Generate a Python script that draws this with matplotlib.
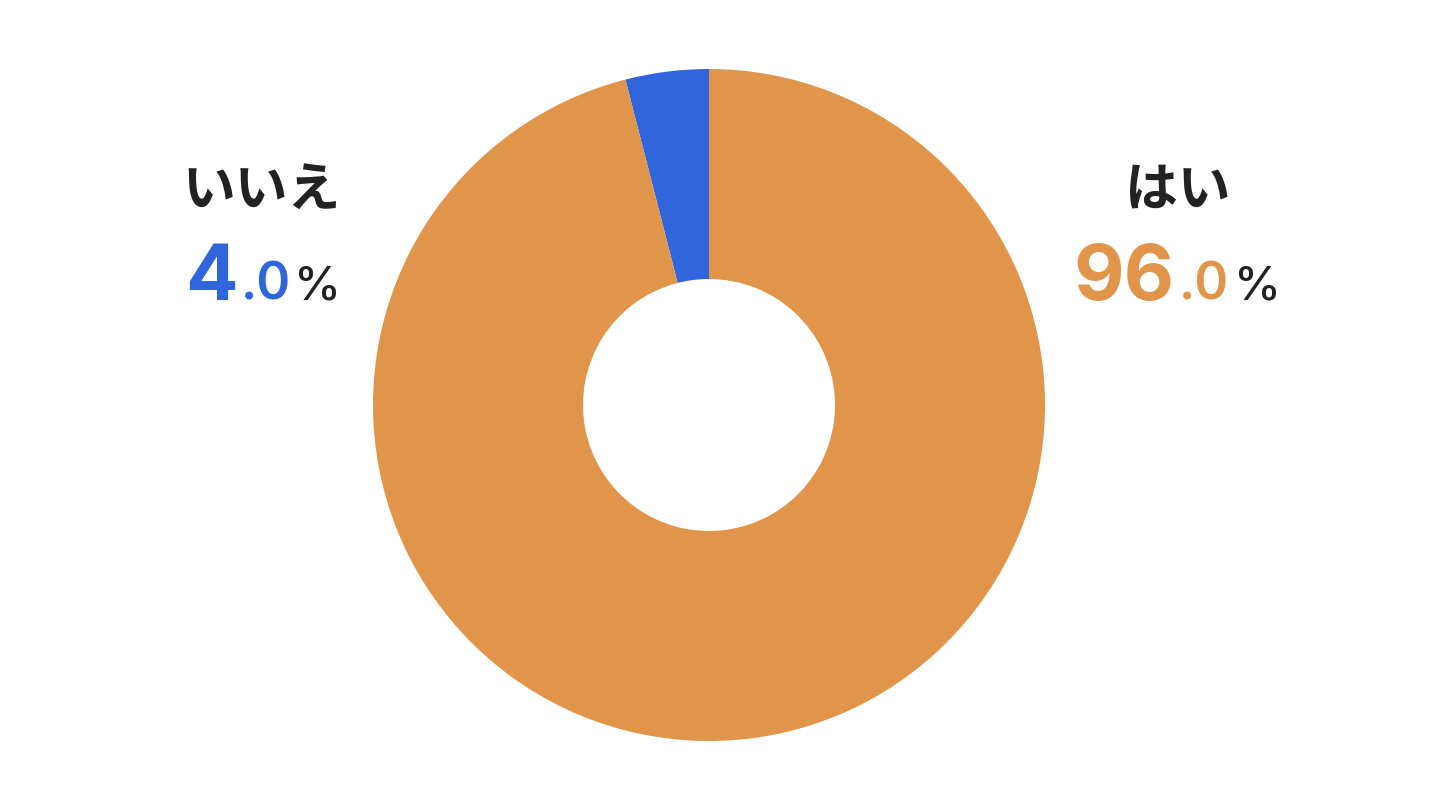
import matplotlib.pyplot as plt

# data
labels = ["いいえ", "はい"]
values = [4.0, 96.0]
colors = ["#3165DB", "#E1954A"]

W, H = 1440, 810
cx, cy = 709, 405
r_out, r_in = 336, 126

fig = plt.figure(figsize=(14.4, 8.1), dpi=100)
ax = fig.add_axes([0, 0, 1, 1])

# donut, starting at 12 o'clock going left for the first slice
ax.pie(values, colors=colors, startangle=90, counterclock=True,
       center=(cx, H - cy), radius=r_out,
       wedgeprops=dict(width=r_out - r_in, linewidth=0))

ax.set_xlim(0, W)
ax.set_ylim(0, H)
ax.set_aspect("equal")
ax.axis("off")

jp = ["Noto Sans CJK JP", "DejaVu Sans"]
num = ["Inter", "DejaVu Sans"]
dark = "#222222"

# label blocks: (title centre x, left x of number parts)
spots = [
    dict(tx=262, nx=[185, 241, 294]),
    dict(tx=1178, nx=[1073, 1179, 1234]),
]

for lab, v, c, sp in zip(labels, values, colors, spots):
    ax.text(sp["tx"], H - 206, lab, family=jp, fontsize=38, fontweight="bold",
            color=dark, ha="center", va="baseline")
    whole, dec = f"{v:.1f}".split(".")
    base = H - 300
    ax.text(sp["nx"][0], base, whole, family=num, fontsize=56, fontweight="bold",
            color=c, ha="left", va="baseline")
    ax.text(sp["nx"][1], base, "." + dec, family=num, fontsize=37, fontweight="semibold",
            color=c, ha="left", va="baseline")
    ax.text(sp["nx"][2], base, "%", family=num, fontsize=34, fontweight="medium",
            color=dark, ha="left", va="baseline")

fig.savefig("out.png", dpi=100, facecolor="white")
